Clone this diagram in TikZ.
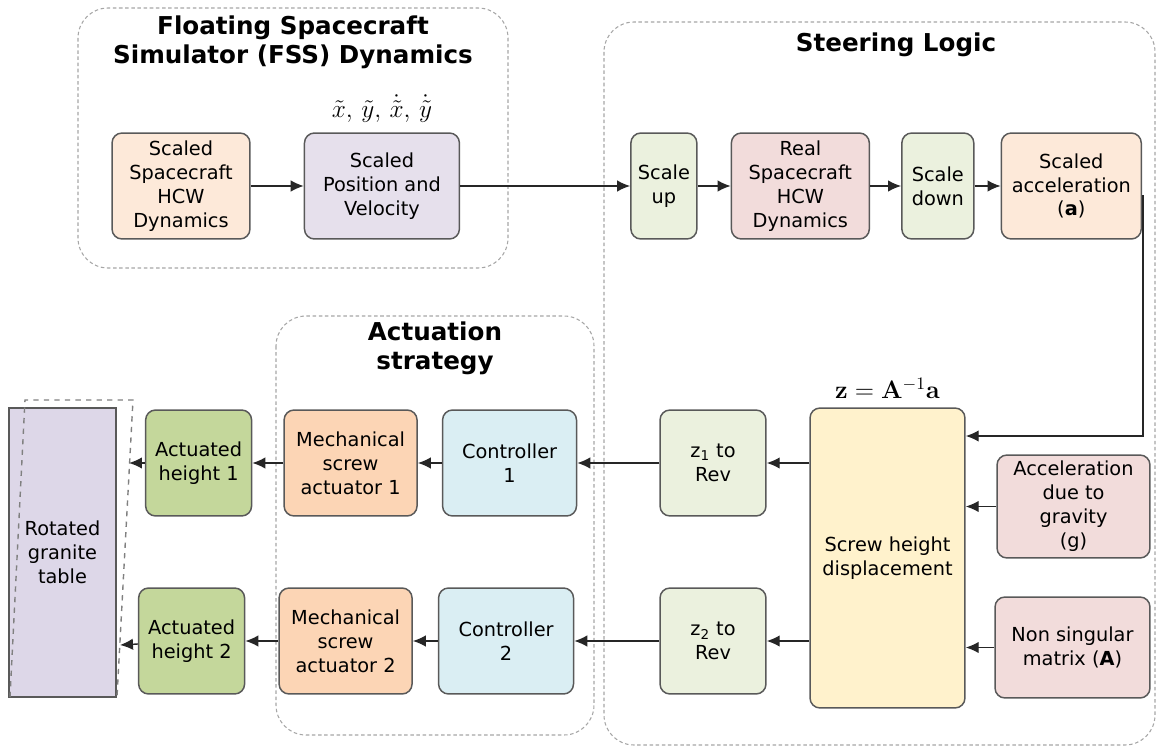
\documentclass[tikz,border=0pt]{standalone}
\usepackage[no-math]{fontspec}
\setmainfont{DejaVu Sans}
\usepackage{tikz}
\usetikzlibrary{arrows.meta, positioning}

\definecolor{peach}{HTML}{FDE9D9}
\definecolor{lilac}{HTML}{E6E0EC}
\definecolor{paleGreen}{HTML}{EBF1DE}
\definecolor{rose}{HTML}{F2DCDB}
\definecolor{cream}{HTML}{FFF2CC}
\definecolor{iceBlue}{HTML}{DAEEF3}
\definecolor{apricot}{HTML}{FCD5B5}
\definecolor{olive}{HTML}{C4D79B}
\definecolor{granite}{HTML}{DDD7E8}
\definecolor{edge}{HTML}{595959}

\begin{document}
\begin{tikzpicture}[
    x=0.02cm, y=-0.02cm,
    box/.style={rectangle, draw=edge, line width=0.85pt, rounded corners=0.2cm, align=center, minimum width=2.12cm, minimum height=2.12cm, inner sep=2pt, font=\fontsize{11}{13.6}\selectfont},
    group/.style={draw=gray!70, dash pattern=on 2pt off 1.5pt, line width=0.6pt, rounded corners=0.6cm},
    title/.style={font=\fontsize{14}{16.5}\selectfont\bfseries, align=center},
    arrow/.style={-{Latex[length=2.6mm, width=2.3mm]}, line width=0.8pt, draw=black!85}
]
    \useasboundingbox (0,0) rectangle (1157,750);

    % groups
    \draw[group] (78,8) rectangle (508,268);
    \draw[group] (604,22) rectangle (1155,745);
    \draw[group] (276,316) rectangle (594,735);
    \node[title] (fssT) at (293,42) {Floating Spacecraft\\Simulator (FSS) Dynamics};
    \node[title] (steerT) at (896,45) {Steering Logic};
    \node[title] (actT) at (435,348) {Actuation\\strategy};

    % top row
    \node[box, fill=peach, minimum width=2.76cm] (shcw) at (181,186) {Scaled\\Spacecraft\\HCW\\Dynamics};
    \node[box, fill=lilac, minimum width=3.1cm, right=1.06cm of shcw] (spv) {Scaled\\Position and\\Velocity};
    \node[font=\Large, above=0.08cm of spv] (state) {$\tilde{x},\, \tilde{y},\, \dot{\tilde{x}},\, \dot{\tilde{y}}$};
    \node[box, fill=paleGreen, minimum width=1.32cm, right=3.4cm of spv] (sup) {Scale\\up};
    \node[box, fill=rose, minimum width=2.76cm, right=0.66cm of sup] (rhcw) {Real\\Spacecraft\\HCW\\Dynamics};
    \node[box, fill=paleGreen, minimum width=1.44cm, right=0.62cm of rhcw] (sdown) {Scale\\down};
    \node[box, fill=peach, minimum width=2.8cm, right=0.52cm of sdown] (sacc) {Scaled\\acceleration\\(\textbf{a})};

    % steering
    \node[box, fill=cream, minimum width=3.1cm, minimum height=6cm] (screw) at (887.5,558) {Screw height\\displacement};
    \node[font=\Large, above=0.05cm of screw] (zeq) {$\mathbf{z}=\mathbf{A}^{-1}\mathbf{a}$};
    \node[box, fill=rose, minimum width=3.06cm, minimum height=2.06cm] (grav) at (1073.5,506.5) {Acceleration\\due to\\gravity\\(g)};
    \node[box, fill=rose, minimum width=3.1cm, minimum height=2.02cm] (nsm) at (1072.5,647.5) {Non singular\\matrix (\textbf{A})};
    \coordinate (turn) at (1143,436);

    % actuation rows
    \node[box, fill=paleGreen] (zone) at (713,463) {z\textsubscript{1} to\\Rev};
    \node[box, fill=iceBlue, minimum width=2.68cm, left=1.64cm of zone] (ctrlA) {Controller\\1};
    \node[box, fill=apricot, minimum width=2.66cm, left=0.48cm of ctrlA] (mechA) {Mechanical\\screw\\actuator 1};
    \node[box, fill=olive, left=0.62cm of mechA] (htA) {Actuated\\height 1};

    \node[box, fill=paleGreen] (ztwo) at (713,641) {z\textsubscript{2} to\\Rev};
    \node[box, fill=iceBlue, minimum width=2.7cm, left=1.7cm of ztwo] (ctrlB) {Controller\\2};
    \node[box, fill=apricot, minimum width=2.66cm, left=0.5cm of ctrlB] (mechB) {Mechanical\\screw\\actuator 2};
    \node[box, fill=olive, left=0.66cm of mechB] (htB) {Actuated\\height 2};

    % table
    \node[box, fill=granite, rounded corners=0pt, minimum width=2.14cm, minimum height=5.78cm] (table) at (62.5,552.5) {Rotated\\granite\\table};
    \draw[draw=gray, dashed, line width=0.8pt] (10,697) -- (25,400) -- (133,400) -- (117,697);
    \coordinate (tiltA) at (129,463);
    \coordinate (tiltB) at (120,645);

    % connectors
    \draw[arrow] (shcw) -- (spv);
    \draw[arrow] (spv) -- (sup);
    \draw[arrow] (sup) -- (rhcw);
    \draw[arrow] (rhcw) -- (sdown);
    \draw[arrow] (sdown) -- (sacc);
    \draw[arrow] ([yshift=-0.2cm]sacc.east) -| (turn) -- (turn -| screw.east);
    \draw[arrow] (grav.west) -- (grav.west -| screw.east);
    \draw[arrow] (nsm.west) -- (nsm.west -| screw.east);
    \draw[arrow] (zone.east -| screw.west) -- (zone.east);
    \draw[arrow] (ztwo.east -| screw.west) -- (ztwo.east);
    \draw[arrow] (zone) -- (ctrlA);
    \draw[arrow] (ctrlA) -- (mechA);
    \draw[arrow] (mechA) -- (htA);
    \draw[arrow] (htA) -- (tiltA);
    \draw[arrow] (ztwo) -- (ctrlB);
    \draw[arrow] (ctrlB) -- (mechB);
    \draw[arrow] (mechB) -- (htB);
    \draw[arrow] (htB) -- (tiltB);
\end{tikzpicture}
\end{document}
